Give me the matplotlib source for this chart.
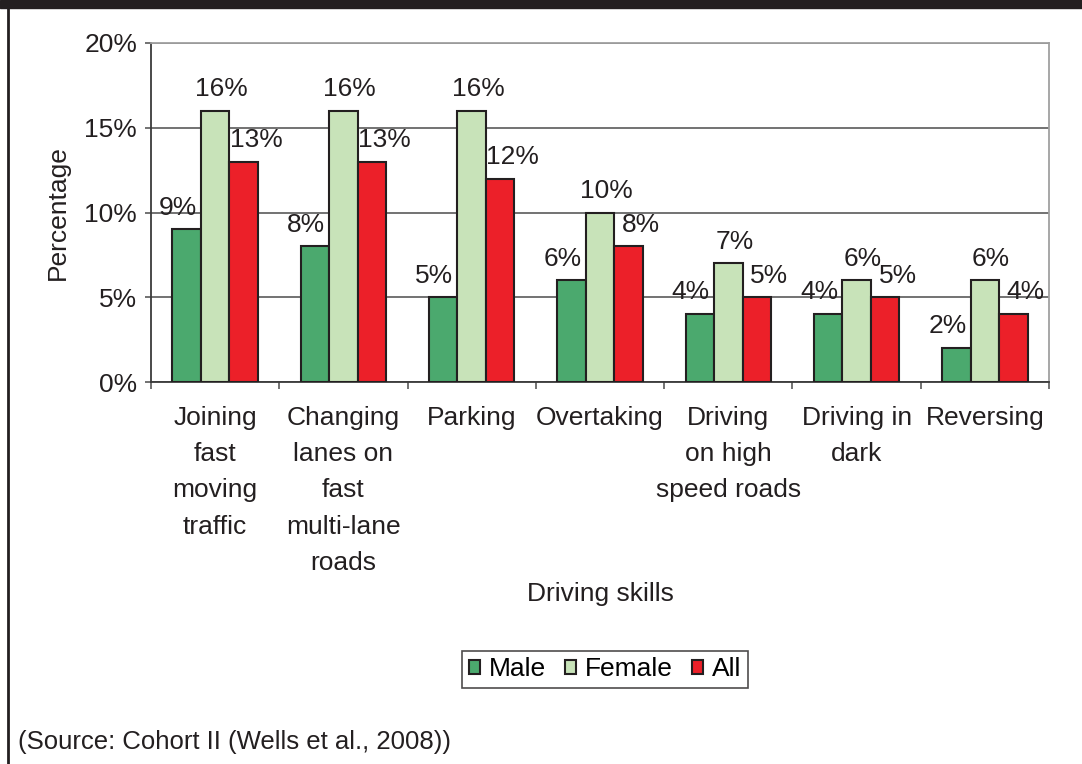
import numpy as np
import matplotlib.pyplot as plt
from matplotlib.lines import Line2D

plt.rcParams['font.family'] = ['Liberation Sans', 'DejaVu Sans']

categories = ["Joining\nfast\nmoving\ntraffic", "Changing\nlanes on\nfast\nmulti-lane\nroads",
              "Parking", "Overtaking", "Driving\non high\nspeed roads", "Driving in\ndark", "Reversing"]
series_names = ["Male", "Female", "All"]
male = [9, 8, 5, 6, 4, 4, 2]
female = [16, 16, 16, 10, 7, 6, 6]
all_ = [13, 13, 12, 8, 5, 5, 4]
colors = ["#4BA96E", "#C8E3B9", "#EC2029"]
yticks = [0, 5, 10, 15, 20]

fs = 19
fig = plt.figure(figsize=(10.82, 7.64), dpi=100)
ax = fig.add_axes([151/1082, 1-382/764, 898/1082, 339/764])

x = np.arange(len(categories))
w = 0.222
label_dx = [-6.5, 4.5, 9]  # points, label offsets like the original
for i, (vals, name, c) in enumerate(zip([male, female, all_], series_names, colors)):
    pos = x + (i - 1) * w
    ax.bar(pos, vals, width=w, color=c, edgecolor="#231F20", linewidth=1.5, label=name, zorder=3)
    for px, v in zip(pos, vals):
        ax.annotate(f"{v}%", (px, v), xytext=(label_dx[i], 7), textcoords="offset points",
                    ha="center", va="bottom", fontsize=fs, color="#231F20", zorder=4)

ax.set_xlim(-0.5, len(categories) - 0.5)
ax.set_ylim(0, 20)
ax.set_yticks(yticks)
ax.set_yticklabels([f"{t}%" for t in yticks], fontsize=fs, color="#231F20")
ax.yaxis.grid(True, color="#5a5a5a", linewidth=1.2, zorder=0)
ax.set_axisbelow(True)

ax.set_xticks(x)
ax.set_xticklabels(categories, fontsize=fs, color="#231F20", linespacing=1.65, va="top")
ax.tick_params(axis="x", length=0, pad=17)
ax.set_xticks(np.arange(len(categories) + 1) - 0.5, minor=True)
ax.tick_params(axis="x", which="minor", length=5, width=1.2, color="#5a5a5a")
ax.tick_params(axis="y", length=4.5, width=1.2, color="#5a5a5a", pad=5.5)

for s in ["left", "bottom"]:
    ax.spines[s].set_color("#3a3a3a")
    ax.spines[s].set_linewidth(1.3)
for s in ["top", "right"]:
    ax.spines[s].set_color("#a0a0a0")
    ax.spines[s].set_linewidth(1.3)

fig.text(58/1082, 1-213/764, "Percentage", rotation=90, ha="center", va="center",
         fontsize=fs, color="#231F20")
fig.text(600/1082, 1-594/764, "Driving skills", ha="center", va="center", fontsize=fs, color="#231F20")

leg = fig.legend(loc="center", bbox_to_anchor=(605/1082, 1-669.5/764), ncol=3, fontsize=fs,
                 frameon=True, fancybox=False, edgecolor="#231F20", handlelength=0.42,
                 handleheight=0.42, handletextpad=0.34, columnspacing=0.72, borderpad=0.25,
                 borderaxespad=0)
leg.get_frame().set_linewidth(1.2)

fig.text(18/1082, 1-742/764, "(Source: Cohort II (Wells et al., 2008))", ha="left", va="center",
         fontsize=18.5, color="#231F20")

# dark band at top and left frame line
fig.patches.append(plt.Rectangle((0, 1-7.5/764), 1, 7.5/764, transform=fig.transFigure,
                                 color="#231F20", zorder=0))
fig.add_artist(Line2D([8/1082, 8/1082], [0, 1], transform=fig.transFigure, color="#231F20", linewidth=2))

fig.savefig("out.png", dpi=100)
